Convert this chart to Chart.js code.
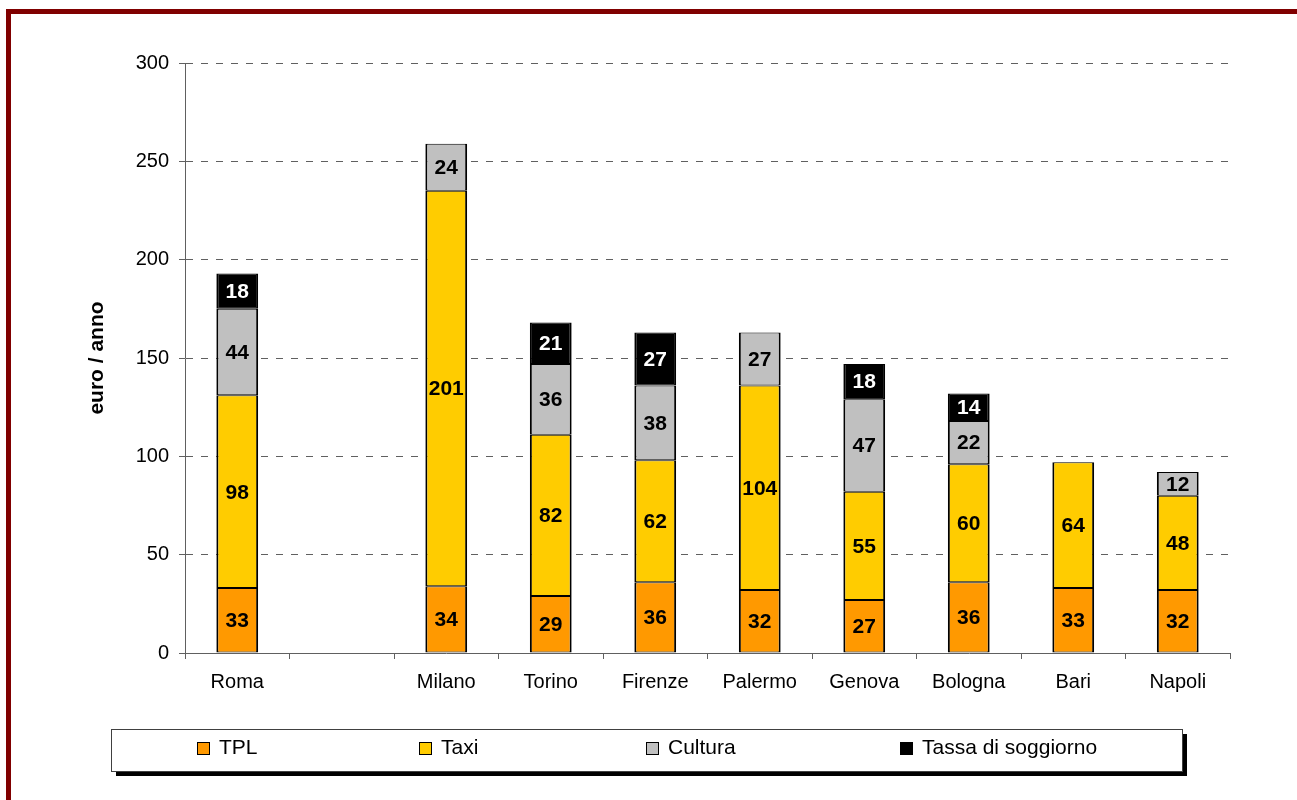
<!DOCTYPE html>
<html>
<head>
<meta charset="utf-8">
<script src="https://cdn.jsdelivr.net/npm/chart.js@4/dist/chart.umd.min.js"></script>
<style>
  html, body { margin: 0; padding: 0; background: #fff; overflow: hidden; }
  #wrap { position: relative; width: 1297px; height: 800px; }
  #frame { position: absolute; left: 6px; top: 9px; width: 1400px; height: 900px;
           border-left: 5px solid #800000; border-top: 5px solid #800000; pointer-events: none; }
  canvas { position: absolute; left: 0; top: 0; }
</style>
</head>
<body>
<div id="wrap">
  <canvas id="c" width="1297" height="800"></canvas>
  <div id="frame"></div>
</div>
<script>
// Spesa annua per città (euro / anno)
const cities  = ['Roma', '', 'Milano', 'Torino', 'Firenze', 'Palermo', 'Genova', 'Bologna', 'Bari', 'Napoli'];
const tpl     = [33, null, 34, 29, 36, 32, 27, 36, 33, 32];
const taxi    = [98, null, 201, 82, 62, 104, 55, 60, 64, 48];
const cultura = [44, null, 24, 36, 38, 27, 47, 22, null, 12];
const tassa   = [18, null, null, 21, 27, null, 18, 14, null, null];
const yTicks  = [0, 50, 100, 150, 200, 250, 300];

const FONT = '"Liberation Sans", Arial, sans-serif';
const GRID = '#606060';

const seriesLabels = ['TPL', 'Taxi', 'Cultura', 'Tassa di soggiorno'];
const seriesColors = ['#FF9900', '#FFCC00', '#C0C0C0', '#000000'];
const labelColors  = ['#000', '#000', '#000', '#fff'];
const seriesData   = [tpl, taxi, cultura, tassa];

const datasets = seriesData.map((d, i) => ({
  label: seriesLabels[i],
  data: d,
  backgroundColor: seriesColors[i],
  borderColor: '#000',
  borderWidth: { top: 1, bottom: 1, left: 2, right: 2 },
  borderSkipped: false,
  barPercentage: 0.4,
  categoryPercentage: 1.0
}));

// Values written in the middle of each stacked segment
const segmentLabels = {
  id: 'segmentLabels',
  afterDatasetsDraw(chart) {
    const ctx = chart.ctx;
    ctx.save();
    ctx.font = 'bold 21px ' + FONT;
    ctx.textAlign = 'center';
    ctx.textBaseline = 'middle';
    chart.data.datasets.forEach((ds, di) => {
      const meta = chart.getDatasetMeta(di);
      meta.data.forEach((bar, i) => {
        const v = ds.data[i];
        if (v === null || v === undefined) return;
        ctx.fillStyle = labelColors[di];
        ctx.fillText(String(v), bar.x, (bar.y + bar.base) / 2 + 1);
      });
    });
    ctx.restore();
  }
};

// Y axis title
const axisTitle = {
  id: 'axisTitle',
  afterDraw(chart) {
    const ctx = chart.ctx;
    const a = chart.chartArea;
    ctx.save();
    ctx.translate(97, (a.top + a.bottom) / 2);
    ctx.rotate(-Math.PI / 2);
    ctx.font = 'bold 21px ' + FONT;
    ctx.fillStyle = '#000';
    ctx.textAlign = 'center';
    ctx.textBaseline = 'middle';
    ctx.fillText('euro / anno', 0, 0);
    ctx.restore();
  }
};

// Boxed legend with drop shadow below the plot
const boxLegend = {
  id: 'boxLegend',
  afterDraw(chart) {
    const ctx = chart.ctx;
    const bx = 111, by = 729, bw = 1071, bh = 42;
    ctx.save();
    ctx.fillStyle = '#000';
    ctx.fillRect(bx + 5, by + 5, bw, bh);
    ctx.fillStyle = '#fff';
    ctx.fillRect(bx, by, bw, bh);
    ctx.strokeStyle = '#404040';
    ctx.lineWidth = 1;
    ctx.strokeRect(bx + 0.5, by + 0.5, bw, bh);
    ctx.font = '21px ' + FONT;
    ctx.textBaseline = 'middle';
    ctx.textAlign = 'left';
    const startX = [197, 419, 646, 900];
    chart.data.datasets.forEach((ds, i) => {
      const x = startX[i], y = 748;
      ctx.fillStyle = ds.backgroundColor;
      ctx.fillRect(x, y - 6, 13, 13);
      ctx.strokeStyle = '#000';
      ctx.strokeRect(x + 0.5, y - 5.5, 12, 12);
      ctx.fillStyle = '#000';
      ctx.fillText(ds.label, x + 22, y);
    });
    ctx.restore();
  }
};

new Chart(document.getElementById('c'), {
  type: 'bar',
  data: { labels: cities, datasets },
  options: {
    responsive: false,
    animation: false,
    devicePixelRatio: 1,
    layout: { padding: { left: 0, top: 63, right: 67, bottom: 0 } },
    plugins: { legend: { display: false }, tooltip: { enabled: false } },
    scales: {
      x: {
        stacked: true,
        offset: true,
        afterFit(s) { s.height = 147; },
        grid: { display: true, drawOnChartArea: false, drawTicks: true, tickLength: 6, color: GRID, offset: true },
        border: { display: true, color: GRID, width: 1 },
        ticks: { color: '#000', font: { family: FONT, size: 20 }, padding: 11, maxRotation: 0, autoSkip: false }
      },
      y: {
        stacked: true,
        min: 0,
        max: 300,
        afterFit(s) { s.width = 185; },
        afterBuildTicks(s) { s.ticks = yTicks.map(v => ({ value: v })); },
        grid: {
          color: c => (c.tick && c.tick.value === 0) ? 'rgba(0,0,0,0)' : GRID,
          tickColor: GRID,
          tickLength: 6,
          tickBorderDash: [],
        },
        border: { display: true, color: GRID, width: 1, dash: [7, 8] },
        ticks: { color: '#000', font: { family: FONT, size: 20 }, padding: 10, stepSize: 50 }
      }
    }
  },
  plugins: [segmentLabels, axisTitle, boxLegend]
});
</script>
</body>
</html>
